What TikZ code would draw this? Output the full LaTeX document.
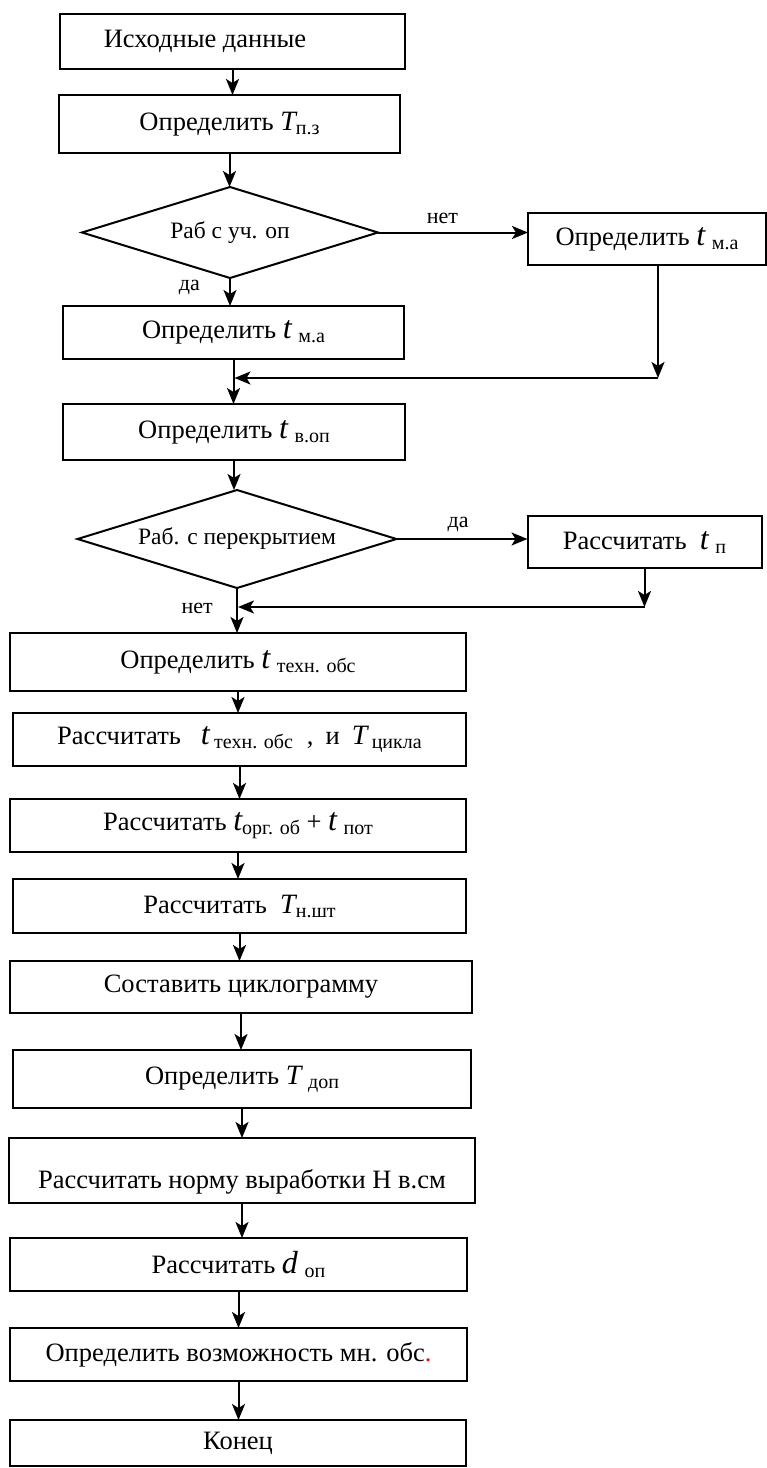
\documentclass[tikz,border=0pt]{standalone}
\usepackage{fontspec}
\setmainfont{Liberation Serif}
\usetikzlibrary{arrows.meta,positioning,shapes.geometric}
\newcommand{\sbs}[1]{\raisebox{-4pt}{\fontsize{20pt}{22pt}\selectfont #1}}
\newcommand{\vit}[1]{{\fontsize{32pt}{34pt}\selectfont\itshape #1}}
\newcommand{\vIT}[1]{{\fontsize{28pt}{30pt}\selectfont\itshape #1}}
\tikzset{
  blk/.style ={draw, line width=2pt, inner sep=0pt, outer sep=0pt, align=center,
               font=\fontsize{26.5pt}{30pt}\selectfont},
  dec/.style ={diamond, draw, line width=2pt, inner sep=0pt, outer sep=0pt, aspect=3.3,
               font=\fontsize{23.5pt}{26pt}\selectfont},
  lbl/.style ={inner sep=2pt, font=\fontsize{22pt}{24pt}\selectfont},
  ar/.style  ={-{Stealth[length=16pt,width=13pt,inset=4pt]}, line width=2pt},
}

\begin{document}
\begin{tikzpicture}
\useasboundingbox (0,0) rectangle (767pt,-1468pt);
\node[blk, minimum width=345pt, minimum height=55pt] (start) at (232.5pt,-41.5pt) {Исходные данные\hspace*{55pt}};
\node[blk, minimum width=341pt, minimum height=58pt, below=26pt of start, xshift=-3pt] (pz) {Определить \vIT{T}\sbs{п.з}};
\node[dec, minimum width=296pt, minimum height=91pt, below=34pt of pz, xshift=0.5pt] (d1) {Раб с уч. оп};
\node[blk, minimum width=238pt, minimum height=52pt, right=150pt of d1, yshift=-6.5pt] (rb1) {Определить \vit{t} \sbs{м.а}};
\node[blk, minimum width=341pt, minimum height=53pt, below=28pt of d1, xshift=3.5pt] (ma) {Определить \vit{t} \sbs{м.а}};
\node[blk, minimum width=342pt, minimum height=56pt, below=45pt of ma, xshift=0.5pt] (vop) {Определить \vit{t} \sbs{в.оп}};
\node[dec, minimum width=319pt, minimum height=98pt, below=30pt of vop, xshift=3pt] (d2) {Раб. с перекрытием};
\node[blk, minimum width=234pt, minimum height=52pt, right=131pt of d2, yshift=-3pt] (rb2) {Рассчитать \ \vit{t} \sbs{п}};
\node[blk, minimum width=456pt, minimum height=58pt, below=45pt of d2, xshift=1pt] (tex) {Определить \vit{t} \sbs{техн. обс}};
\node[blk, minimum width=453pt, minimum height=53pt, below=22pt of tex, xshift=1.5pt] (cyc) {Рассчитать\hspace{20pt}\vit{t}\,\sbs{техн. обс}\hspace{14pt},\hspace{12pt}и\hspace{12pt}\vIT{T}\,\sbs{цикла}};
\node[blk, minimum width=456pt, minimum height=53pt, below=33pt of cyc, xshift=-1.5pt] (org) {Рассчитать \vit{t}\sbs{орг. об} + \vit{t} \sbs{пот}};
\node[blk, minimum width=453pt, minimum height=54pt, below=27pt of org, xshift=1.5pt] (nsht) {Рассчитать \ \vIT{T}\sbs{н.шт}};
\node[blk, minimum width=462pt, minimum height=52pt, below=28pt of nsht, xshift=1.5pt] (cikl) {Составить циклограмму};
\node[blk, minimum width=458pt, minimum height=58pt, below=37pt of cikl, xshift=1pt] (dop) {Определить \vIT{T} \sbs{доп}};
\node[blk, minimum width=466pt, minimum height=65pt, text height=50pt, text depth=15pt, below=30pt of dop] (norm) {Рассчитать норму выработки Н в.см};
\node[blk, minimum width=457pt, minimum height=53pt, below=35pt of norm, xshift=-3.5pt] (don) {Рассчитать \vit{d} \sbs{оп}};
\node[blk, minimum width=457pt, minimum height=53pt, below=37pt of don] (vozm) {Определить возможность мн. обс\textcolor{red}{.}};
\node[blk, minimum width=456pt, minimum height=46pt, below=39pt of vozm, xshift=-0.5pt] (fin) {Конец};

\draw[ar] (start.south) -- (start.south |- pz.north); \draw[ar] (pz.south) -- (pz.south |- d1.north);
\draw[ar] (d1.east) -- node[lbl, above=6pt, pos=0.43] (no1) {нет} (d1.east -| rb1.west);
\draw[ar] (d1.south) -- (d1.south |- ma.north);
\node[lbl, below left=0pt and 28pt of d1.south] (yes1) {да};
\draw[ar] (ma.south) -- (ma.south |- vop.north);
\coordinate[below=113pt of rb1, xshift=11pt] (j1);
\draw[ar] (rb1.south -| j1) -- (j1); \draw[ar, shorten >=1pt] (j1) -- (j1 -| ma.south);
\draw[ar] (vop.south) -- (vop.south |- d2.north);
\draw[ar] (d2.east) -- node[lbl, above=4pt, pos=0.47] (yes2) {да} (d2.east -| rb2.west);
\coordinate[below=39pt of rb2] (j2);
\draw[ar] (rb2) -- (j2); \draw[ar, shorten >=1pt] (j2) -- (j2 -| d2.south);
\draw[ar] (d2.south) -- (d2.south |- tex.north);
\node[lbl, below left=13pt and 22pt of d2.south] (no2) {нет};
\draw[ar] (tex.south) -- (tex.south |- cyc.north); \draw[ar] (cyc.south) -- (cyc.south |- org.north);
\draw[ar] (org.south) -- (org.south |- nsht.north); \draw[ar] (nsht.south) -- (nsht.south |- cikl.north);
\draw[ar] (cikl.south) -- (cikl.south |- dop.north); \draw[ar] (dop.south) -- (dop.south |- norm.north);
\draw[ar] (norm.south) -- (norm.south |- don.north); \draw[ar] (don.south) -- (don.south |- vozm.north);
\draw[ar] (vozm.south) -- (vozm.south |- fin.north);
\end{tikzpicture}
\end{document}
